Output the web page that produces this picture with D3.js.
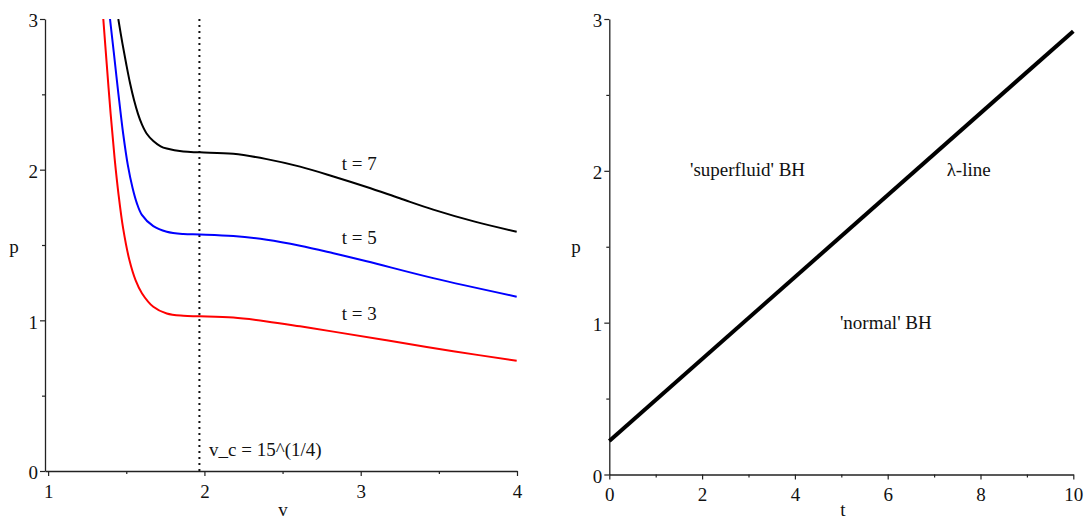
<!DOCTYPE html>
<html>
<head>
<meta charset="utf-8">
<script src="https://cdn.jsdelivr.net/npm/d3@7"></script>
<style>
  body { margin: 0; background: #fff; }
  svg text { font-family: "Liberation Serif", "Times New Roman", "DejaVu Serif", serif; fill: #111; }
</style>
</head>
<body>
<div id="chart"></div>
<script>
const width = 1084;
const height = 521;
const serif = "'Liberation Serif', 'Times New Roman', 'DejaVu Serif', serif";

// isotherms p(v)
const curveT3 = [[1.353, 3.0], [1.375, 2.70], [1.40, 2.37], [1.425, 2.08], [1.45, 1.84],
  [1.48, 1.61], [1.52, 1.40], [1.56, 1.265], [1.60, 1.18], [1.673, 1.09], [1.759, 1.045],
  [1.865, 1.03], [1.972, 1.027], [2.185, 1.018], [2.399, 0.993], [2.612, 0.96],
  [2.825, 0.925], [3.166, 0.868], [3.592, 0.795], [3.998, 0.732]];
const curveT5 = [[1.396, 3.0], [1.42, 2.78], [1.45, 2.5], [1.48, 2.24], [1.51, 2.03],
  [1.54, 1.88], [1.567, 1.78], [1.60, 1.70], [1.673, 1.625], [1.759, 1.588],
  [1.865, 1.573], [1.972, 1.57], [2.185, 1.56], [2.399, 1.535], [2.612, 1.495],
  [2.825, 1.445], [3.038, 1.392], [3.464, 1.28], [3.998, 1.157]];
const curveT7 = [[1.449, 3.0], [1.475, 2.84], [1.50, 2.70], [1.525, 2.57], [1.55, 2.46],
  [1.575, 2.37], [1.60, 2.30], [1.63, 2.24], [1.673, 2.19], [1.72, 2.155], [1.759, 2.14],
  [1.865, 2.12], [1.972, 2.115], [2.185, 2.105], [2.399, 2.07], [2.612, 2.02],
  [2.825, 1.955], [3.038, 1.885], [3.25, 1.81], [3.464, 1.735], [3.73, 1.655], [3.998, 1.588]];
const curveLabels = ["t = 3", "t = 5", "t = 7"];
const curveColors = ["#ff0000", "#0000ff", "#000000"];
const vCritical = Math.pow(15, 0.25);
const vCriticalLabel = "v_c = 15^(1/4)";

// lambda line p(t)
const lambdaLine = [[0, 0.22], [10, 2.92]];
const regionLabels = ["'superfluid' BH", "\u03bb-line", "'normal' BH"];

const leftXTicks = [1, 2, 3, 4];
const leftXMinor = [1.5, 2.5, 3.5];
const pTicks = [0, 1, 2, 3];
const pMinor = [0.5, 1.5, 2.5];
const rightXTicks = [0, 2, 4, 6, 8, 10];
const rightXMinor = [1, 3, 5, 7, 9];

const svg = d3.select("#chart").append("svg")
  .attr("width", width)
  .attr("height", height)
  .attr("font-family", serif);

function drawAxes(x, y, xTicks, xMinor, xPad, xLabel, xLabelX, yLabelX) {
  const g = svg.append("g");
  const x0 = x.range()[0];
  const y0 = y.range()[0];

  g.append("g").attr("transform", `translate(0,${y0})`)
    .call(d3.axisBottom(x).tickValues(xTicks).tickFormat(d3.format("d"))
      .tickSize(5).tickSizeOuter(0).tickPadding(xPad));
  g.append("g").attr("transform", `translate(0,${y0})`)
    .call(d3.axisBottom(x).tickValues(xMinor).tickSize(3).tickFormat(""))
    .select(".domain").remove();

  const yAxis = g.append("g").attr("transform", `translate(${x0},0)`)
    .call(d3.axisLeft(y).tickValues(pTicks).tickFormat(d3.format("d"))
      .tickSize(5).tickSizeOuter(0).tickPadding(2));
  g.append("g").attr("transform", `translate(${x0},0)`)
    .call(d3.axisLeft(y).tickValues(pMinor).tickSize(3).tickFormat(""))
    .select(".domain").remove();

  g.selectAll("g").attr("font-family", serif);
  g.selectAll(".domain").attr("stroke", "#222").attr("stroke-width", 1.3);
  g.selectAll(".tick line").attr("stroke", "#222").attr("stroke-width", 1.2);
  g.selectAll(".tick text")
    .style("font-family", serif)
    .style("font-size", "19px")
    .attr("fill", "#111");
  yAxis.selectAll(".tick text").attr("dy", "0.42em");

  g.append("text")
    .attr("x", xLabelX).attr("y", 516)
    .attr("text-anchor", "middle")
    .style("font-family", serif)
    .style("font-size", "19px")
    .text(xLabel);
  g.append("text")
    .attr("x", yLabelX).attr("y", 253)
    .attr("text-anchor", "middle")
    .style("font-family", serif)
    .style("font-size", "19px")
    .text("p");
}

// ---------- left panel ----------
const xL = d3.scaleLinear().domain([0.98, 4]).range([45, 517]);
const yL = d3.scaleLinear().domain([0, 3]).range([471, 19]);

drawAxes(xL, yL, leftXTicks, leftXMinor, 9, "v", 283, 14);

svg.append("clipPath").attr("id", "clipL")
  .append("rect")
  .attr("x", xL.range()[0]).attr("y", yL.range()[1])
  .attr("width", xL.range()[1] - xL.range()[0])
  .attr("height", yL.range()[0] - yL.range()[1]);

const lineL = d3.line()
  .x(d => xL(d[0]))
  .y(d => yL(d[1]))
  .curve(d3.curveCatmullRom.alpha(0.5));

// dotted critical volume line
svg.append("line")
  .attr("x1", xL(vCritical)).attr("x2", xL(vCritical))
  .attr("y1", yL(0)).attr("y2", yL(3))
  .attr("stroke", "#111")
  .attr("stroke-width", 2)
  .attr("stroke-dasharray", "2,4");

const curves = [curveT3, curveT5, curveT7];
svg.append("g").attr("clip-path", "url(#clipL)")
  .selectAll("path")
  .data(curves)
  .enter()
  .append("path")
  .attr("d", lineL)
  .attr("fill", "none")
  .attr("stroke", (d, i) => curveColors[i])
  .attr("stroke-width", 2);

// curve labels, anchored in data coords
const labelP = [1.0, 1.507, 2.0];
svg.selectAll(".curveLabel")
  .data(curveLabels)
  .enter()
  .append("text")
  .attr("class", "curveLabel")
  .attr("x", xL(2.878))
  .attr("y", (d, i) => yL(labelP[i]))
  .style("font-family", serif)
  .style("font-size", "19px")
  .text(d => d);

svg.append("text")
  .attr("x", xL(2.03))
  .attr("y", yL(0.1))
  .style("font-family", serif)
  .style("font-size", "19px")
  .text(vCriticalLabel);

// ---------- right panel ----------
const xR = d3.scaleLinear().domain([0, 10]).range([609.3, 1073.3]);
const yR = d3.scaleLinear().domain([0, 3]).range([474.5, 19]);

drawAxes(xR, yR, rightXTicks, rightXMinor, 8, "t", 843, 576);

const lineR = d3.line().x(d => xR(d[0])).y(d => yR(d[1]));
svg.append("path")
  .datum(lambdaLine)
  .attr("d", lineR)
  .attr("fill", "none")
  .attr("stroke", "#000")
  .attr("stroke-width", 4);

const regionPos = [[1.74, 1.966], [7.27, 1.966], [4.97, 0.958]];
svg.selectAll(".regionLabel")
  .data(regionLabels)
  .enter()
  .append("text")
  .attr("class", "regionLabel")
  .attr("x", (d, i) => xR(regionPos[i][0]))
  .attr("y", (d, i) => yR(regionPos[i][1]))
  .style("font-family", serif)
  .style("font-size", "19px")
  .text(d => d);
</script>
</body>
</html>
